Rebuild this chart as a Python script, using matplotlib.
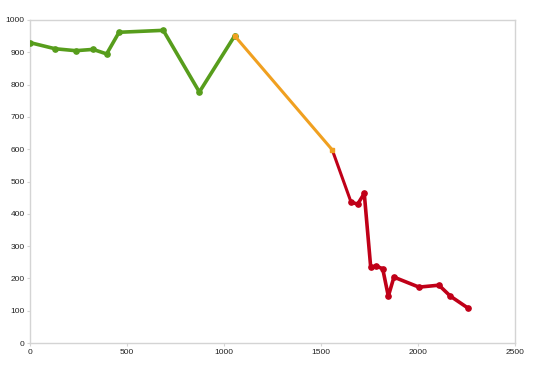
import matplotlib
matplotlib.use('Agg')
import matplotlib.pyplot as plt

# ── Data ──────────────────────────────────────────────────────────────────────
green_x = [0, 129, 236, 325, 395, 459, 687, 873, 1055]
green_y = [930, 911, 905, 909, 895, 962, 968, 777, 951]

orange_x = [1055, 1558]
orange_y = [951, 598]

red_x = [1558, 1655, 1689, 1723, 1756, 1785, 1818, 1847, 1876, 2005, 2108, 2167, 2258]
red_y = [598, 436, 430, 463, 236, 238, 230, 145, 204, 173, 179, 145, 108]

x_ticks = [0, 500, 1000, 1500, 2000, 2500]
y_ticks = list(range(0, 1001, 100))

plt.rcParams['font.family'] = ['Liberation Sans', 'DejaVu Sans']

fig = plt.figure(figsize=(5.40, 3.71), dpi=100)
ax = fig.add_axes([30 / 540, 28 / 371, 485 / 540, 323 / 371])

ax.plot(green_x, green_y, color='#579d1c', lw=2.6, marker='o', ms=3.8,
        solid_joinstyle='round', zorder=3)
ax.plot(red_x[:2], red_y[:2], color='#c00018', lw=2.2, zorder=2)
ax.plot(red_x[1:], red_y[1:], color='#c00018', lw=2.6, marker='o', ms=3.8,
        solid_joinstyle='round', zorder=3)
# orange segment on top so its end markers show at both joins
ax.plot(orange_x, orange_y, color='#f0a020', lw=2.2, marker='s', ms=3.5,
        solid_joinstyle='round', zorder=4)

ax.set_xlim(0, 2500)
ax.set_ylim(0, 1000)
ax.set_xticks(x_ticks)
ax.set_yticks(y_ticks)

for s in ax.spines.values():
    s.set_color('#d4d4d4')
    s.set_linewidth(1.0)
ax.tick_params(colors='#d4d4d4', labelcolor='#222222', labelsize=6,
               length=2.5, width=0.8, pad=1.5)

plt.savefig('out.png', dpi=100)
